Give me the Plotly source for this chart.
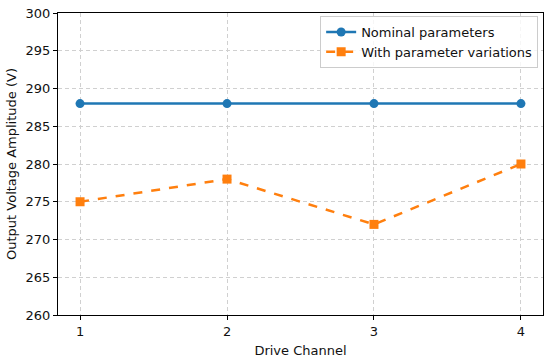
import plotly.graph_objects as go

channels = [1, 2, 3, 4]
nominal = [288, 288, 288, 288]
variations = [275, 278, 272, 280]
y_ticks = [260, 265, 270, 275, 280, 285, 290, 295, 300]

fig = go.Figure()
fig.add_trace(go.Scatter(x=channels, y=nominal, mode="lines+markers", name="Nominal parameters",
                         line=dict(color="#1f77b4", width=2.5),
                         marker=dict(symbol="circle", size=9, color="#1f77b4")))
fig.add_trace(go.Scatter(x=channels, y=variations, mode="lines+markers", name="With parameter variations",
                         line=dict(color="#ff7f0e", width=2.5, dash="dash"),
                         marker=dict(symbol="square", size=9, color="#ff7f0e")))

axis_common = dict(showline=True, linecolor="black", linewidth=1, mirror=True,
                   ticks="outside", ticklen=4, tickcolor="black",
                   showgrid=True, gridcolor="#d0d0d0", griddash="4px,3px", gridwidth=1,
                   zeroline=False, tickfont=dict(size=13, color="#111"),
                   title_font=dict(size=13, color="#111"), automargin=False)
fig.update_xaxes(range=[0.85, 4.15], tickvals=channels, title_text="Drive Channel",
                 title_standoff=8, **axis_common)
fig.update_yaxes(range=[260, 300], tickvals=y_ticks, title_text="Output Voltage Amplitude (V)",
                 title_standoff=6, **axis_common)
fig.update_layout(width=550, height=361, margin=dict(l=58, r=7, t=13, b=46),
                  plot_bgcolor="white", paper_bgcolor="white",
                  font=dict(family="DejaVu Sans", size=13, color="#111"),
                  legend=dict(x=0.99, y=0.99, xanchor="right", yanchor="top",
                              bgcolor="rgba(255,255,255,0.8)", bordercolor="#cccccc", borderwidth=1,
                              font=dict(size=13), tracegroupgap=0),
                  showlegend=True)
fig.write_html("out.html", config={"displayModeBar": False})

with open("out.html", encoding="utf-8") as f:
    html = f.read()
html = html.replace("<body>", '<body style="margin:0;padding:0;overflow:hidden">', 1)
with open("out.html", "w", encoding="utf-8") as f:
    f.write(html)
